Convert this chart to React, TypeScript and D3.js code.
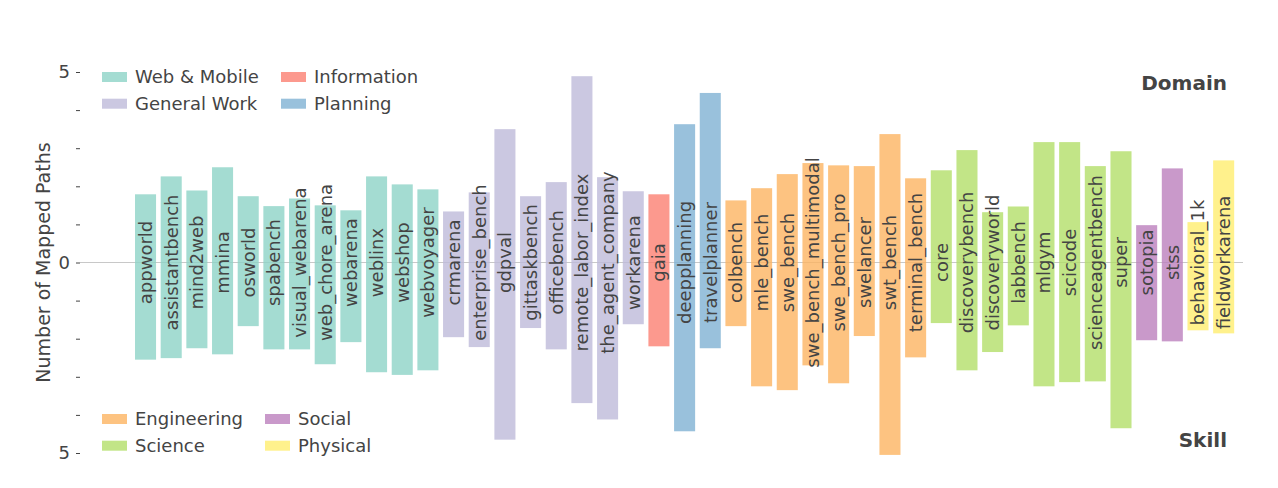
import { useEffect, useRef } from "react";
import * as d3 from "d3";

const benchmarks = [
  "appworld", "assistantbench", "mind2web", "mmina", "osworld", "spabench",
  "visual_webarena", "web_chore_arena", "webarena", "weblinx", "webshop", "webvoyager",
  "crmarena", "enterprise_bench", "gdpval", "gittaskbench", "officebench",
  "remote_labor_index", "the_agent_company", "workarena",
  "gaia",
  "deepplanning", "travelplanner",
  "colbench", "mle_bench", "swe_bench", "swe_bench_multimodal", "swe_bench_pro",
  "swelancer", "swt_bench", "terminal_bench",
  "core", "discoverybench", "discoveryworld", "labbench", "mlgym", "scicode",
  "scienceagentbench", "super",
  "sotopia", "stss",
  "behavioral_1k", "fieldworkarena",
];

const groups = [
  "Web & Mobile", "Web & Mobile", "Web & Mobile", "Web & Mobile", "Web & Mobile", "Web & Mobile",
  "Web & Mobile", "Web & Mobile", "Web & Mobile", "Web & Mobile", "Web & Mobile", "Web & Mobile",
  "General Work", "General Work", "General Work", "General Work", "General Work",
  "General Work", "General Work", "General Work",
  "Information",
  "Planning", "Planning",
  "Engineering", "Engineering", "Engineering", "Engineering", "Engineering",
  "Engineering", "Engineering", "Engineering",
  "Science", "Science", "Science", "Science", "Science", "Science",
  "Science", "Science",
  "Social", "Social",
  "Physical", "Physical",
];

// paths mapped upward (domain) and downward (skill)
const domainPaths = [
  1.79, 2.26, 1.89, 2.5, 1.74, 1.48, 1.68, 1.5, 1.37, 2.26, 2.05, 1.92,
  1.34, 1.84, 3.5, 1.74, 2.11, 4.89, 2.24, 1.87,
  1.79,
  3.63, 4.45,
  1.63, 1.95, 2.32, 2.61, 2.55, 2.53, 3.37, 2.21,
  2.42, 2.95, 1.32, 1.47, 3.16, 3.16, 2.53, 2.92,
  0.98, 2.47,
  1.06, 2.68,
];

const skillPaths = [
  2.55, 2.51, 2.25, 2.41, 1.67, 2.28, 2.28, 2.67, 2.09, 2.88, 2.95, 2.83,
  1.96, 2.22, 4.65, 1.72, 2.28, 3.69, 4.12, 1.62,
  2.2,
  4.43, 2.25,
  1.67, 3.25, 3.35, 2.7, 3.17, 1.93, 5.05, 2.49,
  1.59, 2.83, 2.35, 1.65, 3.25, 3.14, 3.12, 4.35,
  2.04, 2.07,
  1.78, 1.86,
];

const topLegend = [["Web & Mobile", "General Work"], ["Information", "Planning"]];
const bottomLegend = [["Engineering", "Science"], ["Social", "Physical"]];

const yTicks = [-5, -4, -3, -2, -1, 0, 1, 2, 3, 4, 5];
const yTickLabels = ["5", "", "", "", "", "0", "", "", "", "", "5"];

const groupNames = ["Web & Mobile", "General Work", "Information", "Planning",
  "Engineering", "Science", "Social", "Physical"];
const groupColors = ["#8dd3c7", "#bebada", "#fb8072", "#80b1d3",
  "#fdb462", "#b3de69", "#bc80bd", "#ffed6f"];

export default function App() {
  const svgRef = useRef<SVGSVGElement>(null);

  useEffect(() => {
    document.body.style.margin = "0";
    const width = 1278;
    const height = 488;
    const font = "DejaVu Sans";
    const ink = "#444";

    const svg = d3.select(svgRef.current)
      .attr("width", width)
      .attr("height", height)
      .style("font-family", font);
    svg.selectAll("*").remove();

    const x = d3.scaleBand().domain(benchmarks).range([132.7, 1236.5])
      .paddingInner(0.18).paddingOuter(0.09);
    const y = d3.scaleLinear().domain([-5, 5]).range([453, 72]);
    const color = d3.scaleOrdinal<string, string>().domain(groupNames).range(groupColors);

    // zero line
    svg.append("line")
      .attr("x1", 80).attr("x2", 1243)
      .attr("y1", y(0)).attr("y2", y(0))
      .attr("stroke", "#c8c8c8").attr("stroke-width", 1);

    // y axis: ticks with absolute values
    const axis = svg.append("g").attr("transform", "translate(80,0)")
      .call(d3.axisLeft(y).tickValues(yTicks).tickSize(4).tickPadding(6)
        .tickFormat((_, i) => yTickLabels[i]));
    axis.select(".domain").remove();
    axis.selectAll(".tick line").attr("stroke", ink);
    axis.selectAll(".tick text").attr("fill", ink)
      .style("font-family", font).style("font-size", "18px");

    svg.append("text")
      .attr("transform", `translate(50,${y(0)}) rotate(-90)`)
      .attr("text-anchor", "middle")
      .attr("fill", ink)
      .style("font-size", "19px")
      .text("Number of Mapped Paths");

    const rows = benchmarks.map((b, i) => ({
      name: b, group: groups[i], up: domainPaths[i], down: skillPaths[i],
    }));

    svg.append("g").selectAll("rect")
      .data(rows).join("rect")
      .attr("x", (d) => x(d.name)!)
      .attr("width", x.bandwidth())
      .attr("y", (d) => y(d.up))
      .attr("height", (d) => y(-d.down) - y(d.up))
      .attr("fill", (d) => color(d.group))
      .attr("fill-opacity", 0.8);

    svg.append("g").selectAll("text")
      .data(rows).join("text")
      .attr("transform", (d) => `translate(${x(d.name)! + x.bandwidth() / 2},${y(0)}) rotate(-90)`)
      .attr("text-anchor", "middle")
      .attr("dy", "0.35em")
      .attr("fill", ink)
      .style("font-size", "18px")
      .text((d) => d.name);

    // legends
    const drawLegend = (cols: string[][], x0: number, colGap: number[], y0: number) => {
      cols.forEach((col, ci) => {
        col.forEach((name, ri) => {
          const gx = x0 + colGap[ci];
          const gy = y0 + ri * 26.7;
          svg.append("rect")
            .attr("x", gx).attr("y", gy - 5)
            .attr("width", 25).attr("height", 10)
            .attr("fill", color(name)).attr("fill-opacity", 0.8);
          svg.append("text")
            .attr("x", gx + 33).attr("y", gy)
            .attr("dy", "0.35em")
            .attr("fill", ink)
            .style("font-size", "18px")
            .text(name);
        });
      });
    };
    drawLegend(topLegend, 102, [0, 179], 77);
    drawLegend(bottomLegend, 102, [0, 163], 419);

    svg.append("text")
      .attr("x", 1227).attr("y", 83).attr("dy", "0.35em")
      .attr("text-anchor", "end")
      .attr("fill", ink)
      .style("font-size", "20px").style("font-weight", "bold")
      .text("Domain");
    svg.append("text")
      .attr("x", 1227).attr("y", 440).attr("dy", "0.35em")
      .attr("text-anchor", "end")
      .attr("fill", ink)
      .style("font-size", "20px").style("font-weight", "bold")
      .text("Skill");
  }, []);

  return <svg ref={svgRef}></svg>;
}
